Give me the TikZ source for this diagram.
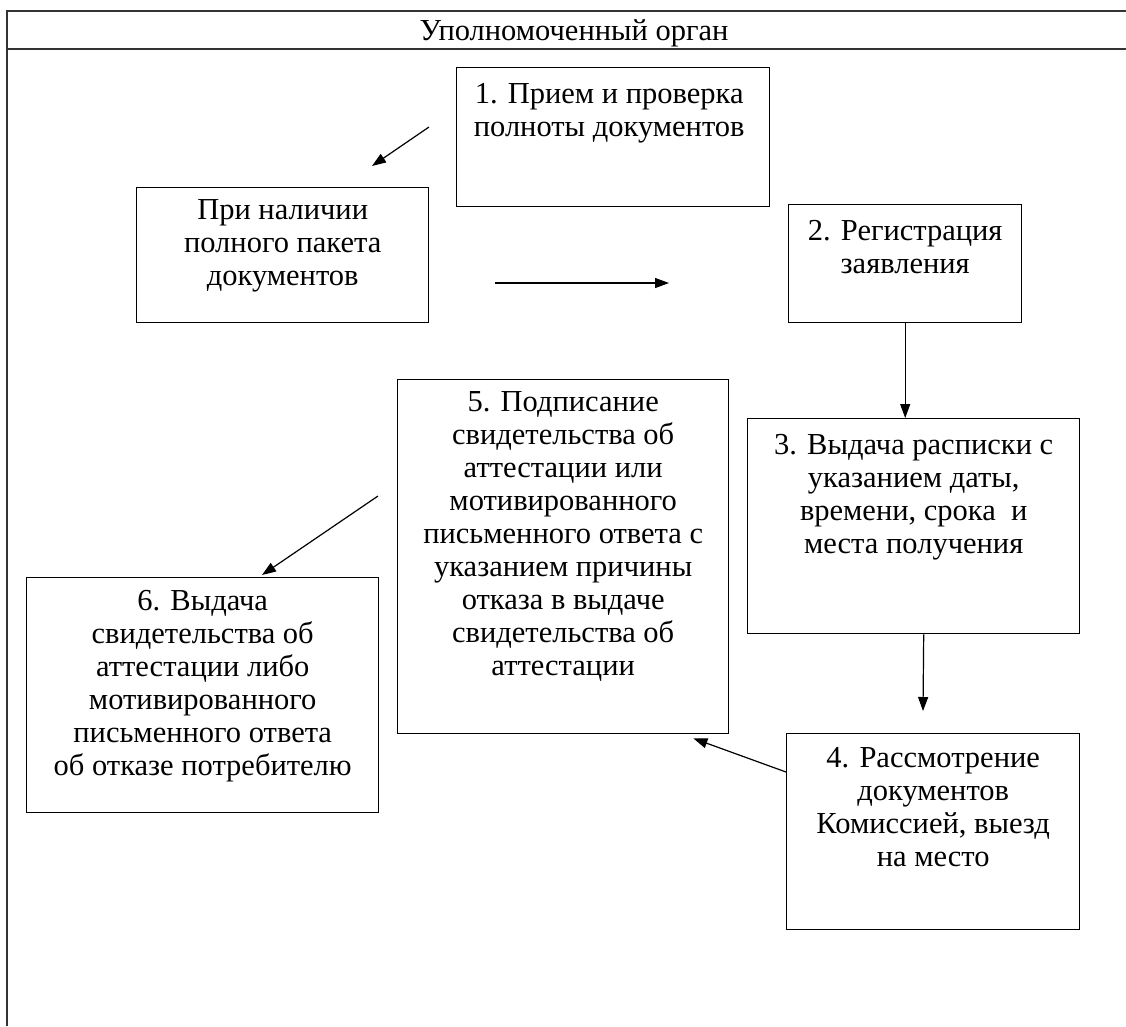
\documentclass[tikz,border=0pt]{standalone}
\usepackage{fontspec}
\setmainfont{Liberation Serif}
\usetikzlibrary{arrows.meta,calc}
\begin{document}
\begin{tikzpicture}[x=1pt,y=-1pt,
  box/.style={draw, line width=1.4pt, inner sep=0pt, anchor=north west},
  txt/.style={font=\fontsize{30.5}{33}\selectfont, align=center, inner sep=0pt, anchor=north,
              execute at begin node={\rule{0pt}{24.4pt}}},
  arr/.style={-{Triangle[length=14pt,width=10pt]}, line width=1.2pt},
  frame/.style={line width=1.1pt, draw=black!80}]
\useasboundingbox (0,0) rectangle (1126,1026);
\fill[white] (0,0) rectangle (1126,1026);
% frame
\draw[frame] (7,1026) -- (7,11) -- (1126,11);
\draw[frame] (7,49) -- (1126,49);
\node[font=\fontsize{30.5}{33}\selectfont, anchor=base, inner sep=0pt] (title) at (574,40) {Уполномоченный орган};
% boxes
\node[box, minimum width=313pt, minimum height=139pt] (b1) at (456,67) {};
\node[box, minimum width=292pt, minimum height=135pt] (bP) at (136,187) {};
\node[box, minimum width=233pt, minimum height=118pt] (b2) at (788,204) {};
\node[box, minimum width=332pt, minimum height=215pt] (b3) at (747,418) {};
\node[box, minimum width=331pt, minimum height=354pt] (b5) at (397,379) {};
\node[box, minimum width=352pt, minimum height=235pt] (b6) at (26,577) {};
\node[box, minimum width=293pt, minimum height=196pt] (b4) at (786,733) {};
% texts
\node[txt] (t1) at ($(b1.north)+(-4,16.6)$) {1. Прием и проверка\\полноты документов};
\node[txt] (tP) at ($(bP.north)+(0,12.6)$) {При наличии\\полного пакета\\документов};
\node[txt] (t2) at ($(b2.north)+(0,15.6)$) {2. Регистрация\\заявления};
\node[txt] (t3) at ($(b3.north)+(0,15.6)$) {3. Выдача расписки с\\указанием даты,\\времени, срока\ \ и\\места получения};
\node[txt] (t5) at ($(b5.north)+(0,12.6)$) {5. Подписание\\свидетельства об\\аттестации или\\мотивированного\\письменного ответа с\\указанием причины\\отказа в выдаче\\свидетельства об\\аттестации};
\node[txt] (t6) at ($(b6.north)+(0,12.6)$) {6. Выдача\\свидетельства об\\аттестации либо\\мотивированного\\письменного ответа\\об отказе потребителю};
\node[txt] (t4) at ($(b4.north)+(0,14.6)$) {4. Рассмотрение\\документов\\Комиссией, выезд\\на место};
% arrows
\coordinate (a1s) at (429,127);
\coordinate (a1e) at (372,166);
\draw[arr] (a1s) -- (a1e);
\coordinate (a2s) at (495,283);
\coordinate (a2e) at (669,283);
\draw[arr] (a2s) -- (a2e);
\draw[arr] (b2.south) -- (b2.south |- b3.north);
\coordinate (a4e) at (923,711);
\draw[arr] ($(b3.south)+(10,0)$) -- (a4e);
\draw[arr] ($(b4.north west)+(0,39)$) -- ($(b5.south east)+(-36,4)$);
\coordinate (a6s) at (378,496);
\draw[arr] (a6s) -- ($(b6.north west)+(236,-2)$);
\end{tikzpicture}
\end{document}
